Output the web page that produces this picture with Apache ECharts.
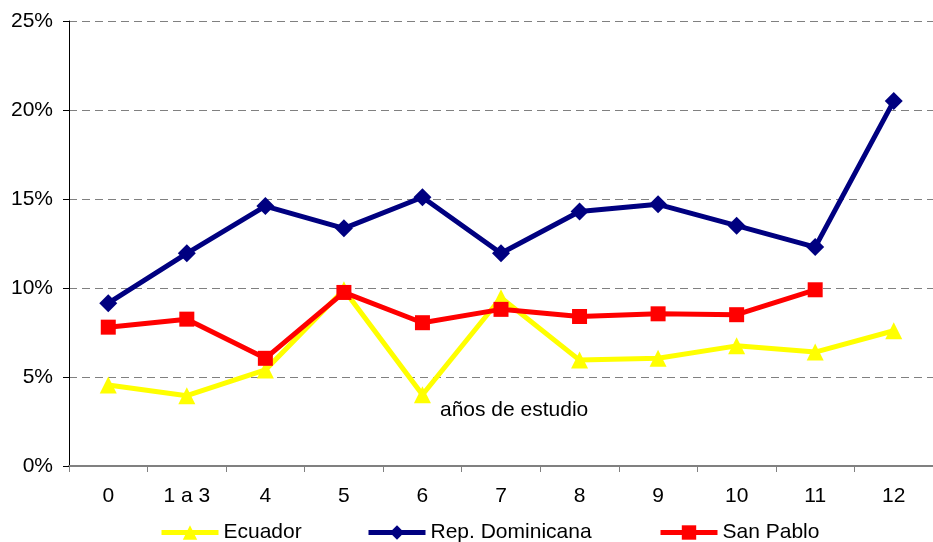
<!DOCTYPE html>
<html>
<head>
<meta charset="utf-8">
<script src="https://cdn.jsdelivr.net/npm/echarts@6/dist/echarts.min.js"></script>
<style>
  html, body { margin: 0; padding: 0; background: #fff; }
  #chart { width: 933px; height: 542px; }
</style>
</head>
<body>
<div id="chart"></div>
<script>
var chart = echarts.init(document.getElementById('chart'));

// años de estudio
var categorias = ['0', '1 a 3', '4', '5', '6', '7', '8', '9', '10', '11', '12'];
var ecuador = [4.55, 3.95, 5.4, 9.9, 4.0, 9.45, 5.95, 6.05, 6.75, 6.4, 7.6];
var repDominicana = [9.15, 11.95, 14.6, 13.35, 15.1, 11.95, 14.3, 14.7, 13.5, 12.3, 20.5];
var sanPablo = [7.8, 8.25, 6.05, 9.75, 8.05, 8.8, 8.4, 8.55, 8.5, 9.9, null];
var ticksY = [0, 5, 10, 15, 20, 25];
var nombres = ['Ecuador', 'Rep. Dominicana', 'San Pablo'];

var fuente = 'Liberation Sans, Arial, sans-serif';

function leyenda(nombre, x) {
    return {
        bottom: -1,
        left: x,
        padding: 0,
        itemWidth: 57,
        itemHeight: 18,
        lineStyle: { width: 5 },
        textStyle: { fontFamily: fuente, fontSize: 21, color: '#000' },
        data: [nombre]
    };
}

option = {
    backgroundColor: '#fff',
    animation: false,
    grid: {
        left: 69,
        right: -12,
        top: 21,
        bottom: 76
    },
    legend: [
        leyenda(nombres[0], 159),
        leyenda(nombres[1], 366),
        leyenda(nombres[2], 658)
    ],
    xAxis: {
        type: 'category',
        data: categorias,
        boundaryGap: true,
        axisLine: { lineStyle: { color: '#808080', width: 2 } },
        axisTick: { show: true, length: 6, lineStyle: { color: '#808080' } },
        axisLabel: { fontFamily: fuente, fontSize: 21, color: '#000', margin: 20 }
    },
    yAxis: {
        type: 'value',
        min: ticksY[0],
        max: ticksY[ticksY.length - 1],
        interval: 5,
        axisLine: { show: true, lineStyle: { color: '#000', width: 1 } },
        axisTick: { show: true, length: 6, lineStyle: { color: '#000' } },
        axisLabel: {
            fontFamily: fuente, fontSize: 21, color: '#000', margin: 16,
            formatter: function (v) { return v + '%'; }
        },
        splitLine: { lineStyle: { color: '#808080', type: [8, 5], width: 1 } }
    },
    graphic: [{
        type: 'text',
        left: 440,
        top: 400,
        style: { text: 'años de estudio', font: '21px ' + fuente, fill: '#000' }
    }],
    series: [{
        name: nombres[0],
        type: 'line',
        data: ecuador,
        symbol: 'triangle',
        symbolSize: 17,
        z: 2,
        lineStyle: { color: '#ffff00', width: 5 },
        itemStyle: { color: '#ffff00' }
    }, {
        name: nombres[1],
        type: 'line',
        data: repDominicana,
        symbol: 'diamond',
        symbolSize: 18,
        z: 3,
        lineStyle: { color: '#000080', width: 5 },
        itemStyle: { color: '#000080' }
    }, {
        name: nombres[2],
        type: 'line',
        data: sanPablo,
        symbol: 'rect',
        symbolSize: 15,
        z: 4,
        lineStyle: { color: '#ff0000', width: 5 },
        itemStyle: { color: '#ff0000' }
    }]
};

chart.setOption(option);
</script>
</body>
</html>
